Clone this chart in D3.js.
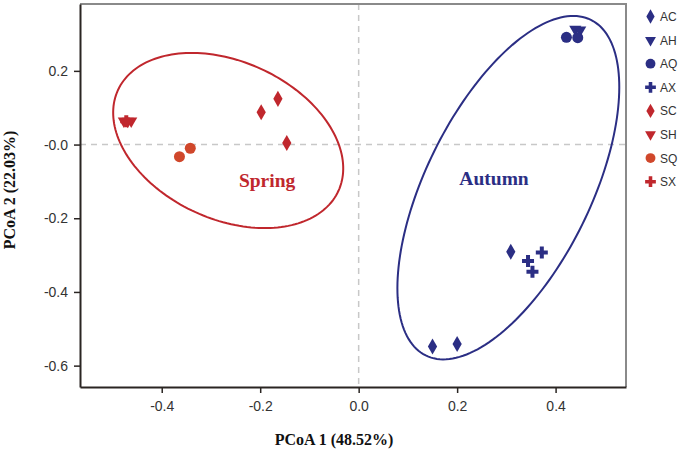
<!doctype html>
<html lang="en">

<head>
    <meta charset="UTF-8">
    <title>PCoA</title>
    <style>
        body { margin: 0; background: #fff; }
    </style>
</head>

<body>
    <svg width="681" height="450"></svg>
    <script type="text/javascript" src="https://cdn.jsdelivr.net/npm/d3@7/dist/d3.min.js"></script>
    <script type="text/javascript">
    // groups and their points (PCoA1, PCoA2)
    var groups = ['AC', 'AH', 'AQ', 'AX', 'SC', 'SH', 'SQ', 'SX'];
    var groupShape = ['diamond', 'triangle', 'circle', 'cross', 'diamond', 'triangle', 'circle', 'cross'];
    var groupColor = ['#2b2e84', '#2b2e84', '#2b2e84', '#2b2e84', '#c0272d', '#c0272d', '#d0472b', '#c0272d'];
    var pointGroup = ['AC', 'AC', 'AC', 'AH', 'AH', 'AQ', 'AQ', 'AX', 'AX', 'AX',
        'SC', 'SC', 'SC', 'SH', 'SH', 'SH', 'SQ', 'SQ', 'SX'];
    var pointX = [0.309, 0.150, 0.200, 0.440, 0.450, 0.422, 0.445, 0.372, 0.344, 0.353,
        -0.198, -0.164, -0.146, -0.477, -0.469, -0.462, -0.364, -0.342, -0.472];
    var pointY = [-0.291, -0.548, -0.541, 0.313, 0.311, 0.291, 0.290, -0.293, -0.316, -0.345,
        0.088, 0.124, 0.004, 0.064, 0.063, 0.064, -0.033, -0.010, 0.063];
    var xTicks = [-0.4, -0.2, 0.0, 0.2, 0.4];
    var yTicks = [0.2, 0.0, -0.2, -0.4, -0.6];

    // confidence ellipses: centre and two conjugate half-axes, in data units
    var ellipseName = ['Spring', 'Autumn'];
    var ellipseColor = ['#c0272d', '#2b2e84'];
    var ellipseCenter = [[-0.265, 0.011], [0.304, -0.117]];
    var ellipseU = [[0.224, -0.1365], [0.1677, 0.4554]];
    var ellipseV = [[-0.0664, -0.1946], [0.1505, -0.0990]];
    var labelPos = [[-0.186, -0.115], [0.275, -0.110]];

    var svg = d3.select('svg');
    var plotL = 80, plotR = 626, plotT = 4, plotB = 387;

    var x = d3.scaleLinear().domain([-0.566, 0.543]).range([plotL, plotR]);
    var y = d3.scaleLinear().domain([0.3815, -0.658]).range([plotT, plotB]);

    function fmt(d) {
        var s = Math.abs(d).toFixed(1);
        return (d < 0 ? '-' : '') + s;
    }

    // zero lines
    svg.append('line')
        .attr('x1', x(0)).attr('x2', x(0))
        .attr('y1', plotT).attr('y2', plotB)
        .attr('stroke', '#c8c8c8').attr('stroke-width', 1.5)
        .attr('stroke-dasharray', '6,5');
    svg.append('line')
        .attr('x1', plotL).attr('x2', plotR)
        .attr('y1', y(0)).attr('y2', y(0))
        .attr('stroke', '#c8c8c8').attr('stroke-width', 1.5)
        .attr('stroke-dasharray', '6,5');

    // frame top/right
    svg.append('path')
        .attr('d', 'M' + plotL + ',' + plotT + 'H' + plotR + 'V' + plotB)
        .attr('fill', 'none')
        .attr('stroke', '#8a8a8a')
        .attr('stroke-width', 2);

    // axes
    var xAxis = svg.append('g')
        .attr('transform', 'translate(0,' + plotB + ')')
        .call(d3.axisBottom(x).tickValues(xTicks).tickSize(6).tickSizeOuter(0).tickFormat(fmt));
    var yAxis = svg.append('g')
        .attr('transform', 'translate(' + plotL + ',0)')
        .call(d3.axisLeft(y).tickValues(yTicks).tickSize(6).tickSizeOuter(0)
            .tickFormat(function(d) { return d === 0 ? '-0.0' : fmt(d); }));
    [xAxis, yAxis].forEach(function(a) {
        a.select('.domain').attr('stroke', '#2a2522').attr('stroke-width', 2);
        a.selectAll('.tick line').attr('stroke', '#2a2522').attr('stroke-width', 1.5);
        a.selectAll('.tick text')
            .attr('fill', '#333')
            .style('font-family', 'Liberation Sans, Arial, sans-serif')
            .style('font-size', '14px');
    });
    xAxis.selectAll('.tick text').attr('dy', '1.05em');
    yAxis.selectAll('.tick text').attr('x', -12);

    // ellipses
    var line = d3.line().curve(d3.curveLinearClosed);
    ellipseName.forEach(function(name, k) {
        var pts = d3.range(0, 360, 2).map(function(deg) {
            var t = deg * Math.PI / 180;
            var px = ellipseCenter[k][0] + ellipseU[k][0] * Math.cos(t) + ellipseV[k][0] * Math.sin(t);
            var py = ellipseCenter[k][1] + ellipseU[k][1] * Math.cos(t) + ellipseV[k][1] * Math.sin(t);
            return [x(px), y(py)];
        });
        svg.append('path')
            .attr('d', line(pts))
            .attr('fill', 'none')
            .attr('stroke', ellipseColor[k])
            .attr('stroke-width', 2);
        svg.append('text')
            .text(name)
            .attr('x', x(labelPos[k][0]))
            .attr('y', y(labelPos[k][1]))
            .attr('text-anchor', 'middle')
            .attr('fill', ellipseColor[k])
            .style('font-family', 'Liberation Serif, Times New Roman, serif')
            .style('font-weight', 'bold')
            .style('font-size', '19.5px');
    });

    // symbols
    var shapes = {
        diamond: d3.symbolDiamond,
        triangle: d3.symbolTriangle,
        circle: d3.symbolCircle,
        cross: d3.symbolCross
    };
    var sizes = { diamond: 74, triangle: 64, circle: 95, cross: 80 };
    function symbolPath(shape, scale) {
        return d3.symbol().type(shapes[shape]).size(sizes[shape] * scale)();
    }
    function symbolTransform(shape, cx, cy) {
        return 'translate(' + cx + ',' + cy + ')' + (shape === 'triangle' ? ' rotate(180)' : '');
    }

    svg.append('g').selectAll('path')
        .data(pointGroup)
        .enter()
        .append('path')
        .attr('d', function(g) { return symbolPath(groupShape[groups.indexOf(g)], 1); })
        .attr('transform', function(g, i) {
            return symbolTransform(groupShape[groups.indexOf(g)], x(pointX[i]), y(pointY[i]));
        })
        .attr('fill', function(g) { return groupColor[groups.indexOf(g)]; });

    // legend
    var legend = svg.append('g');
    groups.forEach(function(g, i) {
        var ly = 16.5 + i * 23.6;
        legend.append('path')
            .attr('d', symbolPath(groupShape[i], 0.8))
            .attr('transform', symbolTransform(groupShape[i], 650.5, ly))
            .attr('fill', groupColor[i]);
        legend.append('text')
            .text(g)
            .attr('x', 660)
            .attr('y', ly + 4.5)
            .attr('fill', '#333')
            .style('font-family', 'Liberation Sans, Arial, sans-serif')
            .style('font-size', '12px');
    });

    // axis titles
    svg.append('text')
        .text('PCoA 1 (48.52%)')
        .attr('x', 334)
        .attr('y', 445)
        .attr('text-anchor', 'middle')
        .attr('fill', '#111')
        .style('font-family', 'Liberation Serif, Times New Roman, serif')
        .style('font-weight', 'bold')
        .style('font-size', '16px');
    svg.append('text')
        .text('PCoA 2 (22.03%)')
        .attr('transform', 'translate(15,190) rotate(-90)')
        .attr('text-anchor', 'middle')
        .attr('fill', '#111')
        .style('font-family', 'Liberation Serif, Times New Roman, serif')
        .style('font-weight', 'bold')
        .style('font-size', '16px');
    </script>
</body>

</html>
